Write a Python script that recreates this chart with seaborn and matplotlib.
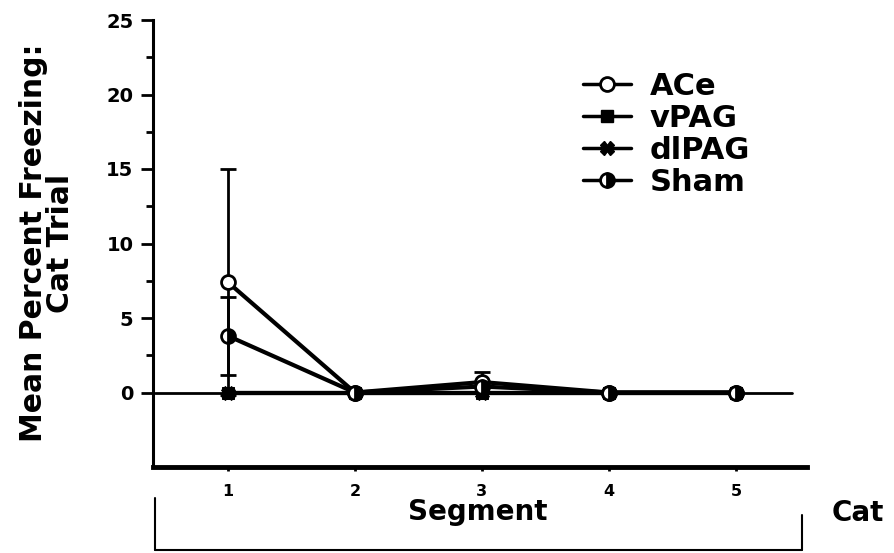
import numpy as np
import pandas as pd
import matplotlib
matplotlib.use("Agg")
import matplotlib.pyplot as plt
import seaborn as sns
from matplotlib.lines import Line2D

segments = [1, 2, 3, 4, 5]
ace = [7.4, 0.0, 0.7, 0.0, 0.0]
ace_err = [7.6, 0.0, 0.65, 0.0, 0.0]
vpag = [0.0, 0.0, 0.0, 0.0, 0.0]
dlpag = [0.0, 0.0, 0.0, 0.0, 0.0]
sham = [3.8, 0.0, 0.4, 0.0, 0.0]
sham_err = [2.6, 0.0, 0.0, 0.0, 0.0]
group_names = ["ACe", "vPAG", "dlPAG", "Sham"]
legend_labels = ["ACe", "vPAG", "dlPAG", "Sham"]
y_ticks = [0, 5, 10, 15, 20, 25]

sns.set_theme(style="ticks")
plt.rcParams['font.family'] = ['DejaVu Sans']
plt.rcParams['font.weight'] = 'bold'
plt.rcParams['text.color'] = 'black'
plt.rcParams['axes.labelcolor'] = 'black'
plt.rcParams['xtick.color'] = 'black'
plt.rcParams['ytick.color'] = 'black'

fig = plt.figure(figsize=(8.95, 5.53), dpi=100)
L, R, T, B = 153, 807, 20, 467
W, H = 895, 553
ax = fig.add_axes([L / W, 1 - B / H, (R - L) / W, (B - T) / H])

# zero reference line
ax.plot([0.425, 5.44], [0, 0], color="black", lw=2, zorder=1)

styles = {
    "vPAG": dict(marker="s", markersize=9, markerfacecolor="black", markeredgecolor="black"),
    "dlPAG": dict(marker="X", markersize=10, markerfacecolor="black", markeredgecolor="black"),
    "ACe": dict(marker="o", markersize=10, markerfacecolor="white", markeredgecolor="black", markeredgewidth=2),
    "Sham": dict(marker="o", markersize=10, fillstyle="right", markerfacecolor="black",
                 markerfacecoloralt="white", markeredgecolor="black", markeredgewidth=2),
}
series = {"ACe": ace, "vPAG": vpag, "dlPAG": dlpag, "Sham": sham}

for name in ["vPAG", "dlPAG", "ACe", "Sham"]:
    df = pd.DataFrame({"Segment": segments, "Freezing": series[name]})
    sns.lineplot(data=df, x="Segment", y="Freezing", ax=ax, color="black", lw=3,
                 zorder=3, **styles[name])

ax.errorbar(segments, ace, yerr=ace_err, fmt="none", ecolor="black", elinewidth=2,
            capsize=6, capthick=2, zorder=2)
ax.errorbar(segments, sham, yerr=sham_err, fmt="none", ecolor="black", elinewidth=2,
            capsize=6, capthick=2, zorder=2)

ax.set_xlim(0.41, 5.56)
ax.set_ylim(-5, 25)
ax.set_xticks(segments)
ax.set_xticklabels([str(s) for s in segments], fontsize=11.5, fontweight="bold")
ax.set_yticks(y_ticks)
ax.set_yticklabels([str(t) for t in y_ticks], fontsize=14, fontweight="bold")
ax.set_yticks(np.arange(2.5, 25, 5), minor=True)
ax.tick_params(axis="y", which="major", length=9, width=2, direction="out", pad=5, color="black")
ax.tick_params(axis="y", which="minor", length=5, width=2, direction="out", color="black")
ax.tick_params(axis="x", which="major", length=3, width=2, direction="out", pad=9, color="black")
ax.set_xlabel("")
ax.set_ylabel("")
for s in ["top", "right"]:
    ax.spines[s].set_visible(False)
ax.spines["left"].set_linewidth(2.2)
ax.spines["bottom"].set_linewidth(3.5)
ax.spines["left"].set_color("black")
ax.spines["bottom"].set_color("black")

handles = [Line2D([0], [0], color="black", lw=2.5, **styles[n]) for n in group_names]
fig.legend(handles, legend_labels, loc="upper left", bbox_to_anchor=(583 / W, 1 - 72 / H),
           frameon=False, prop={"size": 22, "weight": "bold"}, handlelength=1.57,
           handletextpad=0.62, labelspacing=0.1, borderaxespad=0, borderpad=0,
           labelcolor="black")

fig.text(47 / W, 1 - 243 / H, "Mean Percent Freezing:\nCat Trial", rotation=90,
         ha="center", va="center", multialignment="center", fontsize=21.5,
         fontweight="bold", linespacing=0.9, color="black")

# bracket and bottom labels
fig.add_artist(Line2D([155 / W, 155 / W], [1 - 498 / H, 1 - 550 / H], color="black", lw=1.5))
fig.add_artist(Line2D([802 / W, 802 / W], [1 - 515 / H, 1 - 550 / H], color="black", lw=1.5))
fig.add_artist(Line2D([155 / W, 802 / W], [1 - 550 / H, 1 - 550 / H], color="black", lw=1.5))
fig.text(478 / W, 1 - 520 / H, "Segment", ha="center", va="baseline", fontsize=20,
         fontweight="bold", color="black")
fig.text(832 / W, 1 - 521 / H, "Cat", ha="left", va="baseline", fontsize=20,
         fontweight="bold", color="black")

fig.savefig("out.png", dpi=100, facecolor="white")
